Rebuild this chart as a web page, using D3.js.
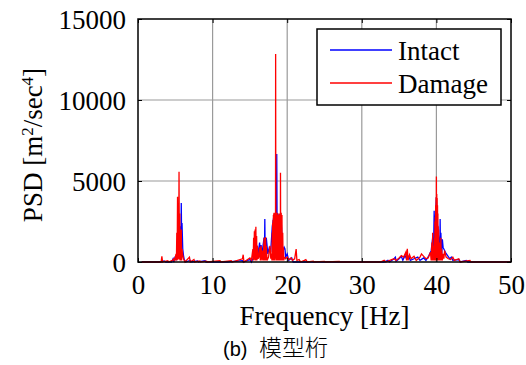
<!DOCTYPE html>
<html>
<head>
<meta charset="utf-8">
<script src="https://cdn.jsdelivr.net/npm/d3@7"></script>
<style>
  body { margin: 0; background: #fff; }
  svg text { font-family: "Liberation Serif", "Times New Roman", serif; fill: #000; }
</style>
</head>
<body>
<div id="chart"></div>
<script>
// series names for the legend
var seriesNames = ["Intact", "Damage"];
var xTicks = [0, 10, 20, 30, 40, 50];
var yTicks = [0, 5000, 10000, 15000];

// [frequency Hz, PSD]
var intactPSD = [
  [0.5, 0], [3.0, 0], [3.5, 60], [3.7, 0], [4.5, 0], [4.7, 200], [4.8, 0], [5.0, 350], [5.1, 100],
  [5.3, 900], [5.4, 300], [5.5, 1500], [5.6, 600], [5.7, 2200], [5.75, 900], [5.8, 3640], [5.85, 1500],
  [5.9, 2400], [6.0, 800], [6.1, 400], [6.2, 150], [6.4, 0], [7.0, 100], [7.1, 0], [8.0, 60], [8.1, 0],
  [9.0, 80], [9.1, 0], [12.0, 0], [14.0, 80], [14.1, 0], [15.0, 150], [15.2, 0], [15.8, 600], [15.9, 300],
  [16.0, 1000], [16.1, 400], [16.3, 1200], [16.4, 500], [16.5, 1050], [16.6, 300], [16.7, 800],
  [16.9, 1500], [16.95, 300], [17.0, 2650], [17.05, 300], [17.2, 1500], [17.4, 500], [17.6, 900],
  [17.8, 740], [18.0, 2200], [18.2, 2800], [18.4, 2400], [18.55, 1200], [18.6, 6670], [18.65, 1500],
  [18.7, 3000], [18.9, 2800], [19.0, 1200], [19.2, 2500], [19.4, 600], [19.6, 900], [19.7, 800],
  [19.8, 300], [20.0, 500], [20.2, 100], [20.6, 250], [20.8, 0], [33.0, 0], [33.5, 100], [33.7, 0],
  [34.2, 150], [34.5, 300], [34.6, 50], [35.0, 200], [35.3, 350], [35.5, 100], [35.8, 400], [36.0, 200],
  [36.3, 350], [36.5, 100], [37.0, 200], [37.5, 300], [37.8, 100], [38.3, 250], [38.6, 100], [39.0, 400],
  [39.3, 700], [39.5, 1500], [39.6, 300], [39.7, 3170], [39.75, 500], [39.8, 2000], [40.0, 4000],
  [40.1, 2500], [40.3, 1500], [40.45, 300], [40.5, 2650], [40.55, 400], [40.6, 1800], [40.7, 300],
  [40.8, 1400], [40.9, 900], [41.2, 600], [41.5, 400], [41.8, 200], [42.0, 300], [42.2, 100], [43.0, 150],
  [43.2, 0], [44.0, 100], [44.2, 0], [50.0, 0]
];

var damagePSD = [
  [0.5, 0], [3.1, 0], [3.2, 350], [3.3, 0], [4.0, 80], [4.1, 0], [4.6, 100], [4.8, 200], [4.9, 50],
  [5.0, 300], [5.1, 500], [5.15, 100], [5.2, 1800], [5.25, 100], [5.3, 4030], [5.35, 150], [5.4, 3500],
  [5.45, 200], [5.5, 5570], [5.55, 150], [5.6, 3000], [5.65, 100], [5.7, 1500], [5.75, 100],
  [5.8, 2000], [5.85, 100], [5.9, 800], [6.0, 400], [6.1, 200], [6.3, 0], [6.9, 300], [7.0, 0],
  [7.5, 150], [7.6, 0], [8.3, 60], [8.4, 0], [9.2, 50], [9.3, 0], [11.0, 80], [11.1, 0], [12.5, 80],
  [12.6, 0], [14.0, 200], [14.1, 450], [14.2, 0], [15.0, 250], [15.2, 100], [15.4, 800], [15.45, 100],
  [15.5, 1500], [15.55, 100], [15.6, 1900], [15.65, 150], [15.7, 2000], [15.75, 100], [15.8, 2180],
  [15.85, 100], [15.9, 1600], [15.95, 100], [16.0, 1000], [16.1, 200], [16.2, 300], [16.3, 900],
  [16.4, 100], [16.5, 1000], [16.6, 100], [16.7, 700], [16.8, 100], [16.9, 1500], [16.95, 100],
  [17.0, 1200], [17.05, 100], [17.1, 1540], [17.15, 100], [17.2, 1000], [17.3, 100], [17.5, 300],
  [17.6, 700], [17.7, 1000], [17.8, 200], [17.9, 500], [17.95, 100], [18.0, 1800], [18.03, 100],
  [18.05, 2400], [18.08, 150], [18.1, 2600], [18.13, 100], [18.15, 2900], [18.18, 200], [18.2, 3000],
  [18.23, 100], [18.25, 3040], [18.28, 150], [18.3, 2900], [18.33, 100], [18.35, 2800], [18.38, 200],
  [18.4, 3000], [18.43, 300], [18.45, 12840], [18.48, 200], [18.5, 2900], [18.53, 100], [18.55, 3000],
  [18.58, 150], [18.6, 2800], [18.63, 100], [18.65, 3040], [18.68, 200], [18.7, 2900], [18.73, 100],
  [18.75, 2900], [18.78, 150], [18.8, 2800], [18.83, 100], [18.85, 2700], [18.88, 200], [18.9, 3000],
  [18.93, 100], [18.95, 3000], [18.98, 150], [19.0, 2600], [19.03, 100], [19.05, 2500], [19.08, 200],
  [19.1, 5510], [19.13, 100], [19.15, 2900], [19.18, 150], [19.2, 3040], [19.23, 100], [19.25, 2600],
  [19.28, 150], [19.3, 2900], [19.33, 100], [19.35, 1500], [19.38, 100], [19.4, 1800], [19.45, 100],
  [19.5, 900], [19.55, 100], [19.6, 300], [19.8, 200], [20.0, 300], [20.2, 150], [20.5, 250],
  [20.7, 100], [21.0, 200], [21.2, 800], [21.3, 100], [21.6, 150], [21.8, 0], [22.3, 100], [22.5, 150],
  [22.7, 0], [23.5, 50], [23.6, 0], [25.0, 40], [25.1, 0], [27.0, 30], [27.1, 0], [32.5, 0], [33.0, 100],
  [33.2, 0], [34.0, 150], [34.3, 200], [34.6, 100], [35.0, 250], [35.3, 400], [35.6, 300], [35.9, 600],
  [36.0, 100], [36.1, 820], [36.2, 100], [36.4, 450], [36.6, 200], [37.0, 350], [37.3, 100], [37.8, 300],
  [38.0, 500], [38.3, 350], [38.6, 200], [38.9, 250], [39.2, 600], [39.3, 100], [39.4, 1200],
  [39.45, 100], [39.5, 1800], [39.55, 100], [39.6, 1000], [39.7, 100], [39.75, 1500], [39.78, 100],
  [39.8, 2500], [39.83, 100], [39.85, 2800], [39.88, 150], [39.9, 3500], [39.93, 100], [39.95, 4000],
  [39.98, 200], [40.0, 5270], [40.03, 150], [40.05, 4200], [40.08, 100], [40.1, 3950], [40.13, 100],
  [40.15, 3500], [40.18, 150], [40.2, 3000], [40.23, 100], [40.25, 2200], [40.28, 100], [40.3, 2000],
  [40.35, 100], [40.4, 1200], [40.45, 100], [40.5, 600], [40.55, 100], [40.6, 1500], [40.65, 100],
  [40.7, 800], [40.8, 100], [40.9, 500], [41.0, 200], [41.1, 700], [41.3, 300], [41.6, 200], [41.9, 150],
  [42.2, 300], [42.4, 100], [43.0, 200], [43.2, 0], [44.5, 100], [44.6, 0], [50.0, 0]
];

var W = 526, H = 365;
var margin = { top: 19, right: 15, bottom: 103, left: 138 },
    width = W - margin.left - margin.right,
    height = H - margin.top - margin.bottom;

var svg = d3.select("#chart").append("svg")
  .attr("width", W)
  .attr("height", H);

var g = svg.append("g")
  .attr("transform", "translate(" + margin.left + "," + margin.top + ")");

var x = d3.scaleLinear().domain([0, 50]).range([0, width]);
var y = d3.scaleLinear().domain([0, 15000]).range([height, 0]);

// grid
g.append("g").selectAll("line")
  .data(xTicks.slice(1, -1))
  .enter().append("line")
  .attr("x1", function(d) { return x(d); }).attr("x2", function(d) { return x(d); })
  .attr("y1", 0).attr("y2", height)
  .attr("stroke", "#9a9a9a").attr("stroke-width", 1.2);

g.append("g").selectAll("line")
  .data(yTicks.slice(1, -1))
  .enter().append("line")
  .attr("x1", 0).attr("x2", width)
  .attr("y1", function(d) { return y(d); }).attr("y2", function(d) { return y(d); })
  .attr("stroke", "#9a9a9a").attr("stroke-width", 1.2);

var line = d3.line()
  .x(function(d) { return x(d[0]); })
  .y(function(d) { return y(d[1]); });

g.append("path")
  .datum(intactPSD)
  .attr("fill", "none")
  .attr("stroke", "#0000ff")
  .attr("stroke-width", 1.3)
  .attr("d", line);

g.append("path")
  .datum(damagePSD)
  .attr("fill", "none")
  .attr("stroke", "#ff0000")
  .attr("stroke-width", 1.3)
  .attr("d", line);

// axes: inward ticks on all four sides
var fmt = d3.format("d");
var xAxis = d3.axisBottom(x).tickValues(xTicks).tickFormat(fmt).tickSizeInner(-4).tickSizeOuter(0).tickPadding(12);
var yAxis = d3.axisLeft(y).tickValues(yTicks).tickFormat(fmt).tickSizeInner(-4).tickSizeOuter(0).tickPadding(12);

var gx = g.append("g").attr("transform", "translate(0," + height + ")").call(xAxis);
var gy = g.append("g").call(yAxis);
g.append("g").call(d3.axisTop(x).tickValues(xTicks).tickSizeInner(-4).tickSizeOuter(0).tickFormat(""));
g.append("g").attr("transform", "translate(" + width + ",0)")
  .call(d3.axisRight(y).tickValues(yTicks).tickSizeInner(-4).tickSizeOuter(0).tickFormat(""));

g.selectAll(".domain").remove();
g.selectAll(".tick line").attr("stroke", "#000").attr("stroke-width", 1);

gx.selectAll("text").style("font-size", "27px").attr("dy", "0.75em");
gy.selectAll("text").style("font-size", "27px").attr("dy", "0.34em");

g.append("rect")
  .attr("width", width).attr("height", height)
  .attr("fill", "none").attr("stroke", "#000").attr("stroke-width", 1.5);

// legend
var lg = svg.append("g");
lg.append("rect")
  .attr("x", 317).attr("y", 29).attr("width", 184).attr("height", 76)
  .attr("fill", "#fff").attr("stroke", "#000").attr("stroke-width", 1.5);

var legendColor = d3.scaleOrdinal().domain(seriesNames).range(["#0000ff", "#ff0000"]);
var entries = lg.selectAll("g.entry")
  .data(seriesNames)
  .enter().append("g")
  .attr("transform", function(d, i) { return "translate(0," + (50 + i * 33) + ")"; });
entries.append("line")
  .attr("x1", 330).attr("x2", 392).attr("y1", 0).attr("y2", 0)
  .attr("stroke", function(d) { return legendColor(d); }).attr("stroke-width", 1.3);
entries.append("text")
  .attr("x", 398).attr("y", 10)
  .style("font-size", "27px")
  .text(function(d) { return d; });

// axis titles
svg.append("text")
  .attr("x", margin.left + width / 2).attr("y", 325)
  .attr("text-anchor", "middle")
  .style("font-size", "27px")
  .text("Frequency [Hz]");

var yl = svg.append("text")
  .attr("transform", "translate(42,145) rotate(-90)")
  .attr("text-anchor", "middle")
  .style("font-size", "27px");
yl.append("tspan").text("PSD [m");
yl.append("tspan").attr("baseline-shift", "super").style("font-size", "17px").text("2");
yl.append("tspan").text("/sec");
yl.append("tspan").attr("baseline-shift", "super").style("font-size", "17px").text("4");
yl.append("tspan").text("]");

// caption
var cap = svg.append("text")
  .attr("x", 223).attr("y", 356)
  .style("font-family", "'Liberation Sans', Arial, 'Noto Sans CJK JP', sans-serif")
  .style("font-weight", "300");
cap.append("tspan").style("font-size", "20px").text("(b)");
cap.append("tspan").attr("x", 259)
  .style("font-family", "'Noto Sans CJK JP', sans-serif")
  .style("font-size", "23px").text("模型桁");
</script>
</body>
</html>
